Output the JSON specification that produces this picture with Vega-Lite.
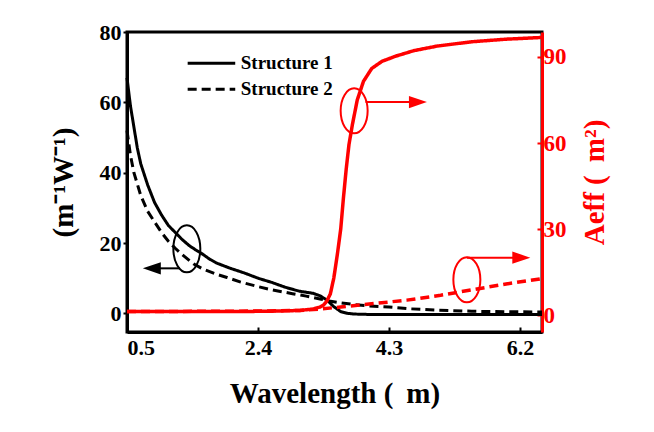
{
  "$schema": "https://vega.github.io/schema/vega-lite/v6.json",
  "width": 415,
  "height": 300,
  "autosize": "none",
  "padding": {"left": 127, "top": 32, "right": 112, "bottom": 100},
  "config": {
    "view": {"stroke": "black", "strokeWidth": 3},
    "font": "Liberation Serif",
    "axis": {
      "grid": false,
      "labelFont": "Liberation Serif",
      "labelFontWeight": "bold",
      "labelFontSize": 22,
      "titleFont": "Liberation Serif",
      "titleFontWeight": "bold",
      "titleFontSize": 29,
      "domainWidth": 3,
      "tickWidth": 2,
      "labelColor": "black",
      "titleColor": "black",
      "domainColor": "black",
      "tickColor": "black"
    }
  },
  "datasets": {
    "gamma": [
      {"s": "Structure 1", "wl": 0.5, "v": 67}, {"s": "Structure 1", "wl": 0.55, "v": 59},
      {"s": "Structure 1", "wl": 0.6, "v": 53}, {"s": "Structure 1", "wl": 0.65, "v": 47},
      {"s": "Structure 1", "wl": 0.7, "v": 42.5}, {"s": "Structure 1", "wl": 0.8, "v": 36.5},
      {"s": "Structure 1", "wl": 0.9, "v": 31.5}, {"s": "Structure 1", "wl": 1.0, "v": 28},
      {"s": "Structure 1", "wl": 1.1, "v": 25}, {"s": "Structure 1", "wl": 1.2, "v": 23},
      {"s": "Structure 1", "wl": 1.3, "v": 21}, {"s": "Structure 1", "wl": 1.4, "v": 19.3},
      {"s": "Structure 1", "wl": 1.5, "v": 18}, {"s": "Structure 1", "wl": 1.6, "v": 16.8},
      {"s": "Structure 1", "wl": 1.7, "v": 15.4}, {"s": "Structure 1", "wl": 1.8, "v": 14.3},
      {"s": "Structure 1", "wl": 2.0, "v": 12.8}, {"s": "Structure 1", "wl": 2.2, "v": 11.5},
      {"s": "Structure 1", "wl": 2.4, "v": 10}, {"s": "Structure 1", "wl": 2.6, "v": 8.8},
      {"s": "Structure 1", "wl": 2.8, "v": 7.4}, {"s": "Structure 1", "wl": 3.0, "v": 6.3},
      {"s": "Structure 1", "wl": 3.1, "v": 6.0}, {"s": "Structure 1", "wl": 3.2, "v": 5.7},
      {"s": "Structure 1", "wl": 3.3, "v": 5.0}, {"s": "Structure 1", "wl": 3.4, "v": 3.8},
      {"s": "Structure 1", "wl": 3.5, "v": 1.9}, {"s": "Structure 1", "wl": 3.6, "v": 0.5},
      {"s": "Structure 1", "wl": 3.7, "v": 0}, {"s": "Structure 1", "wl": 3.8, "v": -0.2},
      {"s": "Structure 1", "wl": 4.0, "v": -0.3}, {"s": "Structure 1", "wl": 5.0, "v": -0.3},
      {"s": "Structure 1", "wl": 6.52, "v": -0.3},
      {"s": "Structure 2", "wl": 0.5, "v": 52}, {"s": "Structure 2", "wl": 0.55, "v": 45},
      {"s": "Structure 2", "wl": 0.6, "v": 40}, {"s": "Structure 2", "wl": 0.7, "v": 33.5},
      {"s": "Structure 2", "wl": 0.8, "v": 29}, {"s": "Structure 2", "wl": 0.9, "v": 26},
      {"s": "Structure 2", "wl": 1.0, "v": 23}, {"s": "Structure 2", "wl": 1.1, "v": 20.5},
      {"s": "Structure 2", "wl": 1.2, "v": 18.5}, {"s": "Structure 2", "wl": 1.3, "v": 16.7},
      {"s": "Structure 2", "wl": 1.47, "v": 14}, {"s": "Structure 2", "wl": 1.6, "v": 12.6},
      {"s": "Structure 2", "wl": 1.8, "v": 11.1}, {"s": "Structure 2", "wl": 1.95, "v": 10.2},
      {"s": "Structure 2", "wl": 2.15, "v": 8.9}, {"s": "Structure 2", "wl": 2.4, "v": 7.6},
      {"s": "Structure 2", "wl": 2.6, "v": 6.7}, {"s": "Structure 2", "wl": 2.9, "v": 5.6},
      {"s": "Structure 2", "wl": 3.1, "v": 4.9}, {"s": "Structure 2", "wl": 3.3, "v": 4.1},
      {"s": "Structure 2", "wl": 3.43, "v": 3.5}, {"s": "Structure 2", "wl": 3.6, "v": 3.0},
      {"s": "Structure 2", "wl": 3.8, "v": 2.5}, {"s": "Structure 2", "wl": 4.0, "v": 2.1},
      {"s": "Structure 2", "wl": 4.3, "v": 1.8}, {"s": "Structure 2", "wl": 4.6, "v": 1.3},
      {"s": "Structure 2", "wl": 5.0, "v": 0.9}, {"s": "Structure 2", "wl": 5.5, "v": 0.6},
      {"s": "Structure 2", "wl": 6.0, "v": 0.45}, {"s": "Structure 2", "wl": 6.52, "v": 0.4}
    ],
    "aeff": [
      {"s": "Structure 1", "wl": 0.5, "v": 1.3}, {"s": "Structure 1", "wl": 1.5, "v": 1.3},
      {"s": "Structure 1", "wl": 2.5, "v": 1.4}, {"s": "Structure 1", "wl": 3.0, "v": 1.7},
      {"s": "Structure 1", "wl": 3.2, "v": 2.2}, {"s": "Structure 1", "wl": 3.3, "v": 2.9},
      {"s": "Structure 1", "wl": 3.35, "v": 3.6}, {"s": "Structure 1", "wl": 3.4, "v": 5},
      {"s": "Structure 1", "wl": 3.45, "v": 7.5}, {"s": "Structure 1", "wl": 3.5, "v": 13},
      {"s": "Structure 1", "wl": 3.55, "v": 21}, {"s": "Structure 1", "wl": 3.6, "v": 30},
      {"s": "Structure 1", "wl": 3.64, "v": 41}, {"s": "Structure 1", "wl": 3.68, "v": 51},
      {"s": "Structure 1", "wl": 3.72, "v": 59.5}, {"s": "Structure 1", "wl": 3.77, "v": 66.5},
      {"s": "Structure 1", "wl": 3.84, "v": 75}, {"s": "Structure 1", "wl": 3.93, "v": 81.5},
      {"s": "Structure 1", "wl": 4.05, "v": 86}, {"s": "Structure 1", "wl": 4.2, "v": 88.5},
      {"s": "Structure 1", "wl": 4.4, "v": 90.3}, {"s": "Structure 1", "wl": 4.66, "v": 92.2},
      {"s": "Structure 1", "wl": 5.0, "v": 93.8}, {"s": "Structure 1", "wl": 5.5, "v": 95.3},
      {"s": "Structure 1", "wl": 6.0, "v": 96.2}, {"s": "Structure 1", "wl": 6.52, "v": 96.8},
      {"s": "Structure 2", "wl": 0.5, "v": 1.3}, {"s": "Structure 2", "wl": 2.5, "v": 1.5},
      {"s": "Structure 2", "wl": 3.0, "v": 1.7}, {"s": "Structure 2", "wl": 3.3, "v": 2.2},
      {"s": "Structure 2", "wl": 3.6, "v": 2.9}, {"s": "Structure 2", "wl": 4.08, "v": 4.1},
      {"s": "Structure 2", "wl": 4.56, "v": 5.3}, {"s": "Structure 2", "wl": 5.05, "v": 7},
      {"s": "Structure 2", "wl": 5.53, "v": 9}, {"s": "Structure 2", "wl": 6.02, "v": 11},
      {"s": "Structure 2", "wl": 6.52, "v": 12.8}
    ],
    "legend": [
      {"s": "Structure 1", "x1": 1.38, "x2": 2.07, "xt": 2.15, "y": 71.1},
      {"s": "Structure 2", "x1": 1.38, "x2": 2.07, "xt": 2.15, "y": 63.7}
    ],
    "ringL": [{"x": 1.368, "y": 18.35}],
    "arrowL": [{"x1": 0.86, "x2": 1.27, "y": 12.8}],
    "ringR": [{"x": 3.795, "y": 71.25}, {"x": 5.43, "y": 12.4}],
    "arrowR": [{"x1": 3.96, "x2": 4.72, "y": 74.3}, {"x1": 5.43, "x2": 6.22, "y": 20.1}]
  },
  "resolve": {"scale": {"y": "independent"}},
  "layer": [
    {
      "layer": [
        {
          "data": {"name": "gamma"},
          "mark": {"type": "line", "color": "black", "strokeWidth": 3},
          "encoding": {
            "x": {
              "field": "wl", "type": "quantitative",
              "scale": {"domain": [0.5, 6.52], "nice": false, "zero": false},
              "axis": {"orient": "bottom", "values": [0.5, 2.4, 4.3, 6.2], "format": ".1f",
                       "title": "Wavelength ( \u2009m)", "tickSize": -5, "labelPadding": 10, "titlePadding": 21}
            },
            "y": {
              "field": "v", "type": "quantitative",
              "scale": {"domain": [-5.3, 80], "nice": false, "zero": false},
              "axis": {"orient": "left", "values": [0, 20, 40, 60, 80],
                       "title": "\u00a0\u00a0\u00a0\u00a0\u00a0(m⁻¹W⁻¹)",
                       "tickSize": 4, "labelPadding": 2, "titlePadding": 21}
            },
            "strokeDash": {
              "field": "s", "type": "nominal",
              "scale": {"domain": ["Structure 1", "Structure 2"], "range": [[1, 0], [9, 5]]},
              "legend": null
            }
          }
        },
        {
          "data": {"name": "legend"},
          "mark": {"type": "rule", "color": "black", "strokeWidth": 3},
          "encoding": {
            "x": {"field": "x1", "type": "quantitative"},
            "x2": {"field": "x2"},
            "y": {"field": "y", "type": "quantitative"},
            "strokeDash": {"field": "s", "type": "nominal", "legend": null}
          }
        },
        {
          "data": {"name": "legend"},
          "mark": {"type": "text", "align": "left", "baseline": "middle", "font": "Liberation Serif",
                   "fontWeight": "bold", "fontSize": 19, "color": "black"},
          "encoding": {
            "x": {"field": "xt", "type": "quantitative"},
            "y": {"field": "y", "type": "quantitative"},
            "text": {"field": "s", "type": "nominal"}
          }
        },
        {
          "data": {"name": "ringL"},
          "mark": {"type": "point", "filled": false, "stroke": "black", "strokeWidth": 2, "opacity": 1,
                   "size": 2209, "shape": "M -0.574 0 A 0.574 1 0 1 0 0.574 0 A 0.574 1 0 1 0 -0.574 0 Z"},
          "encoding": {
            "x": {"field": "x", "type": "quantitative"},
            "y": {"field": "y", "type": "quantitative"}
          }
        },
        {
          "data": {"name": "arrowL"},
          "mark": {"type": "rule", "color": "black", "strokeWidth": 2},
          "encoding": {
            "x": {"field": "x1", "type": "quantitative"},
            "x2": {"field": "x2"},
            "y": {"field": "y", "type": "quantitative"}
          }
        },
        {
          "data": {"name": "arrowL"},
          "mark": {"type": "point", "filled": true, "color": "black", "opacity": 1, "size": 324,
                   "shape": "M -1 0 L 1 -0.68 L 1 0.68 Z"},
          "encoding": {
            "x": {"field": "x1", "type": "quantitative"},
            "y": {"field": "y", "type": "quantitative"}
          }
        }
      ]
    },
    {
      "layer": [
        {
          "data": {"name": "aeff"},
          "mark": {"type": "line", "color": "#ff0000", "strokeWidth": 3.5},
          "encoding": {
            "x": {"field": "wl", "type": "quantitative"},
            "y": {
              "field": "v", "type": "quantitative",
              "scale": {"domain": [-5.8, 98.7], "nice": false, "zero": false},
              "axis": {"orient": "right", "values": [0, 30, 60, 90], "title": "Aeff ( \u2009m²)",
                       "titleAngle": 270, "titleBaseline": "top", "labelFontSize": 23,
                       "tickSize": -5, "labelPadding": 6, "titlePadding": 14,
                       "labelColor": "#ff0000", "titleColor": "#ff0000", "domainColor": "#ff0000",
                       "tickColor": "#ff0000"}
            },
            "strokeDash": {
              "field": "s", "type": "nominal",
              "scale": {"domain": ["Structure 1", "Structure 2"], "range": [[1, 0], [9, 5]]},
              "legend": null
            }
          }
        },
        {
          "data": {"name": "ringR"},
          "mark": {"type": "point", "filled": false, "stroke": "#ff0000", "strokeWidth": 2, "opacity": 1,
                   "size": 2025, "shape": "M -0.6 0 A 0.6 1 0 1 0 0.6 0 A 0.6 1 0 1 0 -0.6 0 Z"},
          "encoding": {
            "x": {"field": "x", "type": "quantitative"},
            "y": {"field": "y", "type": "quantitative"}
          }
        },
        {
          "data": {"name": "arrowR"},
          "mark": {"type": "rule", "color": "#ff0000", "strokeWidth": 2},
          "encoding": {
            "x": {"field": "x1", "type": "quantitative"},
            "x2": {"field": "x2"},
            "y": {"field": "y", "type": "quantitative"}
          }
        },
        {
          "data": {"name": "arrowR"},
          "mark": {"type": "point", "filled": true, "color": "#ff0000", "opacity": 1, "size": 324,
                   "shape": "M 1 0 L -1 -0.68 L -1 0.68 Z"},
          "encoding": {
            "x": {"field": "x2", "type": "quantitative"},
            "y": {"field": "y", "type": "quantitative"}
          }
        }
      ]
    }
  ]
}
